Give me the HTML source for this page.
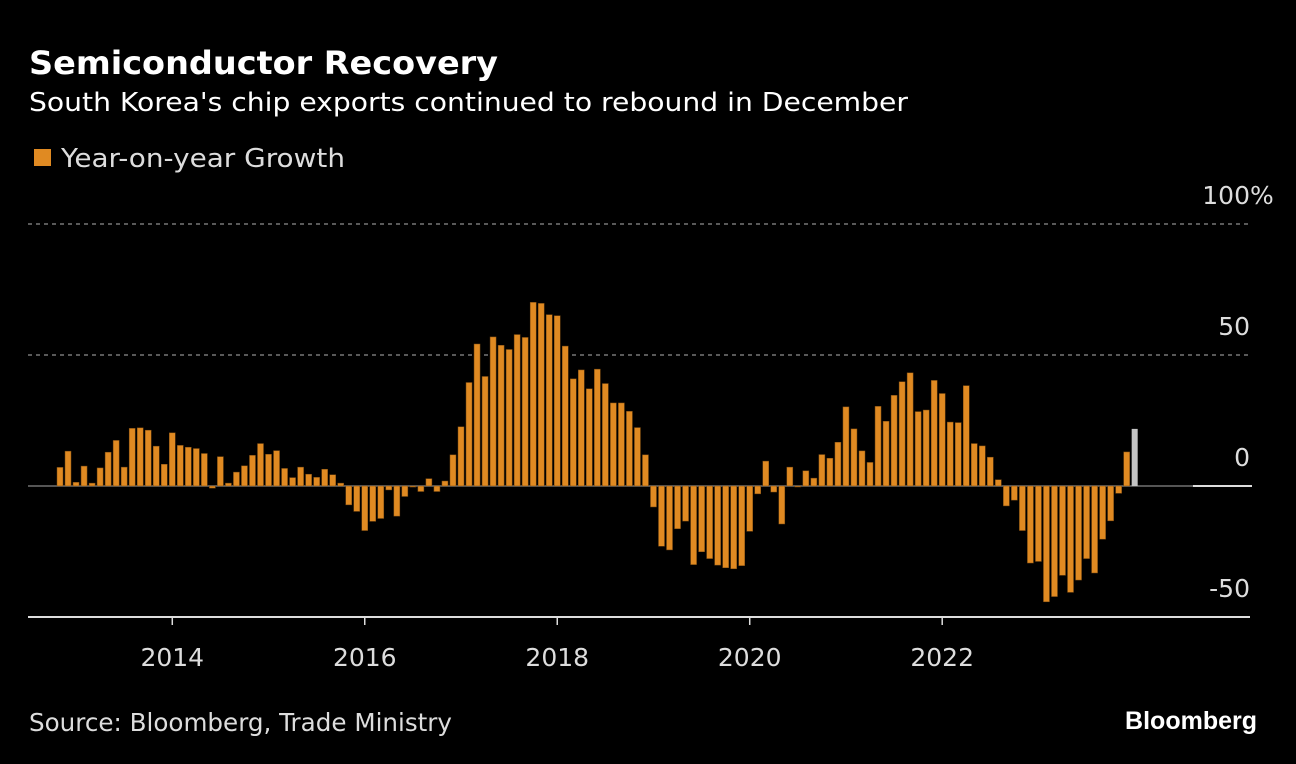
<!DOCTYPE html>
<html><head><meta charset="utf-8"><style>
body{margin:0;background:#000;width:1296px;height:764px;overflow:hidden;font-family:"Liberation Sans",sans-serif;color:#fff}
svg{position:absolute;left:0;top:0}
</style></head><body>
<svg id="chart" width="1296" height="764" xmlns="http://www.w3.org/2000/svg">
<text x="29" y="74" fill="#fff" font-size="32" font-weight="bold" font-family="DejaVu Sans, sans-serif" textLength="469" lengthAdjust="spacingAndGlyphs">Semiconductor Recovery</text>
<text x="29" y="111" fill="#fff" font-size="26" font-family="DejaVu Sans, sans-serif" textLength="879" lengthAdjust="spacingAndGlyphs">South Korea's chip exports continued to rebound in December</text>
<rect x="34" y="149" width="17" height="17" fill="#e08a22"/>
<text x="61" y="167" fill="#ddd" font-size="26" font-family="DejaVu Sans, sans-serif" textLength="284" lengthAdjust="spacingAndGlyphs">Year-on-year Growth</text>
<g id="grid"></g>
<g id="bars"></g>
<g id="axes"></g>
<text x="29" y="731" fill="#ddd" font-size="25" font-family="DejaVu Sans, sans-serif" textLength="423" lengthAdjust="spacingAndGlyphs">Source: Bloomberg, Trade Ministry</text>
<text x="1257" y="729" fill="#fff" font-size="25" font-weight="bold" text-anchor="end" font-family="Liberation Sans, sans-serif">Bloomberg</text>
</svg>
<script>
const startYear = 2012, startMonth = 10;
const values = [7.1,13.3,1.4,7.6,1.1,6.9,12.9,17.4,7.2,22,22.2,21.3,15.2,8.3,20.3,15.5,14.8,14.3,12.4,-0.8,11.2,1.1,5.3,7.7,11.7,16.2,12.1,13.5,6.7,3.2,7.2,4.5,3.3,6.4,4.3,1.1,-7.2,-9.7,-17.0,-13.5,-12.4,-1.5,-11.5,-4.0,-0.4,-2.1,2.8,-2.1,1.9,11.9,22.6,39.5,54.2,41.8,56.9,53.7,52.1,57.8,56.7,70.1,69.7,65.4,65.0,53.4,40.9,44.3,37.1,44.6,39.1,31.7,31.7,28.5,22.3,11.9,-8.0,-23,-24.4,-16.3,-13.4,-30,-25.1,-27.7,-30.2,-31.2,-31.6,-30.4,-17.3,-3,9.5,-2.3,-14.5,7.2,-0.3,5.8,3.0,12.0,10.6,16.7,30.2,21.8,13.4,9.0,30.4,24.7,34.6,39.8,43.2,28.4,29.0,40.3,35.3,24.4,24.2,38.3,16.2,15.3,11.0,2.4,-7.6,-5.4,-17,-29.4,-28.8,-44.2,-42.2,-34.1,-40.6,-35.9,-27.7,-33.2,-20.3,-13.3,-2.8,13.0,21.8];
const yTicks = [100,50,0,-50];
const yTickLabels = ["100","50","0","-50"];
const xTickYears = [2014,2016,2018,2020,2022];

const NS="http://www.w3.org/2000/svg";
const step=8.02, x0=60;
function xScale(i){return x0+i*step;}
function yScale(v){return 486-v*2.62;}
function mk(tag,attrs,parent){const e=document.createElementNS(NS,tag);for(const k in attrs)e.setAttribute(k,attrs[k]);parent.appendChild(e);return e;}
const grid=document.getElementById('grid'),bars=document.getElementById('bars'),axes=document.getElementById('axes');
yTicks.forEach((t,k)=>{
  const y=yScale(t);
  if(t>0){const l=mk('line',{x1:28,x2:1250,y1:y,y2:y,stroke:'#777','stroke-width':1.5,'stroke-dasharray':'4,4'},grid);
  
  }
  const tx=mk('text',{x:1250,y:y-20,fill:'#ddd','font-size':25,'text-anchor':'end','font-family':'DejaVu Sans, sans-serif'},axes);
  tx.textContent=yTickLabels[k];
  
  
  if(k===0){const p=mk('text',{x:1250,y:y-20,fill:'#ddd','font-size':25,'font-family':'DejaVu Sans, sans-serif'},axes);
  p.textContent='%';
  
  }
});
const zl=mk('line',{x1:28,x2:1193,y1:yScale(0),y2:yScale(0),stroke:'#555','stroke-width':2},grid);


const zl2=mk('line',{x1:1193,x2:1252,y1:yScale(0),y2:yScale(0),stroke:'#ddd','stroke-width':2},grid);


values.forEach((v,i)=>{
  const last=i===values.length-1;
  const y=Math.min(yScale(v),yScale(0)),h=Math.abs(yScale(v)-yScale(0));
  const r=mk('rect',{x:xScale(i)-3,y:y,width:6,height:Math.max(h,1),fill:last?'#c4c4c4':'#e08a22',stroke:last?'none':'#7a4a12','stroke-width':0.5},bars);
  
  
});
const ax=mk('line',{x1:28,x2:1250,y1:yScale(-50),y2:yScale(-50),stroke:'#ddd','stroke-width':2},axes);


xTickYears.forEach(yr=>{
  const idx=(yr-startYear)*12+(1-startMonth)-1;
  const x=xScale(idx);
  const tk=mk('line',{x1:x,x2:x,y1:yScale(-50),y2:yScale(-50)+8,stroke:'#ddd','stroke-width':1.5},axes);
  
  
  const t=mk('text',{x:x,y:666,fill:'#ddd','font-size':25,'text-anchor':'middle','font-family':'DejaVu Sans, sans-serif'},axes);
  t.textContent=yr;
  
  
});
</script>
</body></html>
